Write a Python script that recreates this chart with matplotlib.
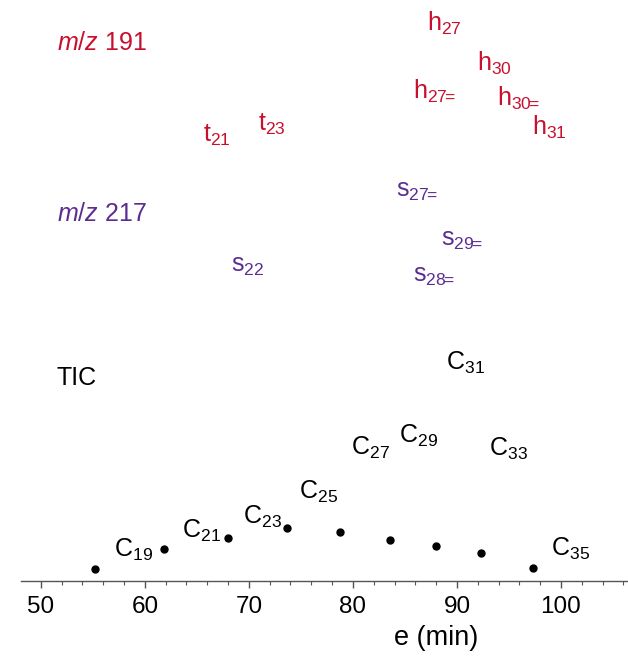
import matplotlib
matplotlib.use("Agg")
import matplotlib.pyplot as plt
from matplotlib.ticker import MultipleLocator

plt.rcParams["font.family"] = ["Liberation Sans", "DejaVu Sans"]
plt.rcParams["mathtext.fontset"] = "custom"
plt.rcParams["mathtext.rm"] = "Liberation Sans"
plt.rcParams["mathtext.it"] = "Liberation Sans:italic"
plt.rcParams["mathtext.default"] = "regular"

RED = "#c8102e"
PURPLE = "#5c2d91"

# TIC n-alkane maxima (retention time, relative intensity)
tic_time = [55.2, 61.8, 68.0, 73.65, 78.75, 83.56, 87.98, 92.3, 97.3]
tic_level = [12, 32, 43, 53, 49, 41, 35, 28, 13]

# peak labels: text, x (min), y (relative), trace
EQ = r"\!\!="
m191_labels = ["h$_{27}$", "h$_{30}$", "h$_{27" + EQ + "}$", "h$_{30" + EQ + "}$",
               "h$_{31}$", "t$_{21}$", "t$_{23}$"]
m191_x = [87.12, 91.92, 85.77, 93.85, 97.21, 65.58, 70.87]
m191_y = [550, 510, 482, 475, 446, 439, 450]

m217_labels = ["s$_{27" + EQ + "}$", "s$_{29" + EQ + "}$", "s$_{22}$", "s$_{28" + EQ + "}$"]
m217_x = [84.13, 88.46, 68.27, 85.77]
m217_y = [384, 335, 309, 299]

tic_labels = ["C$_{31}$", "C$_{29}$", "C$_{27}$", "C$_{33}$", "C$_{25}$",
              "C$_{23}$", "C$_{21}$", "C$_{19}$", "C$_{35}$"]
tic_label_x = [88.94, 84.42, 79.81, 93.08, 74.81, 69.42, 63.56, 57.02, 99.04]
tic_label_y = [211, 138, 126, 125, 82, 57, 43, 24, 25]

trace_names = ["$\\mathit{m/z}$ 191", "$\\mathit{m/z}$ 217", "TIC"]
trace_x = [51.54, 51.54, 51.54]
trace_y = [531, 360, 196]
trace_colors = [RED, PURPLE, "black"]

FS = 18

fig = plt.figure(figsize=(6.28, 6.58), dpi=100)
ax = fig.add_axes([21 / 628, 77 / 658, 607 / 628, 581 / 658])

ax.plot(tic_time, tic_level, "o", color="black", markersize=5, clip_on=False)

for name, x, y, c in zip(trace_names, trace_x, trace_y, trace_colors):
    ax.text(x, y, name, color=c, fontsize=FS, ha="left", va="baseline")
for lab, x, y in zip(m191_labels, m191_x, m191_y):
    ax.text(x, y, lab, color=RED, fontsize=FS, ha="left", va="baseline")
for lab, x, y in zip(m217_labels, m217_x, m217_y):
    ax.text(x, y, lab, color=PURPLE, fontsize=FS, ha="left", va="baseline")
for lab, x, y in zip(tic_labels, tic_label_x, tic_label_y):
    ax.text(x, y, lab, color="black", fontsize=FS, ha="left", va="baseline")

ax.set_xlim(48.1, 106.44)
ax.set_ylim(0, 581)
ax.set_yticks([])
for side in ["left", "right", "top"]:
    ax.spines[side].set_visible(False)
ax.spines["bottom"].set_color("#555555")
ax.spines["bottom"].set_linewidth(1.0)

ax.xaxis.set_major_locator(MultipleLocator(10))
ax.xaxis.set_minor_locator(MultipleLocator(2))
ax.tick_params(axis="x", which="major", length=5, width=1, color="#555555",
               labelsize=17.5, pad=6)
ax.tick_params(axis="x", which="minor", length=3, width=0.8, color="#555555")

ax.set_xlabel("e (min)", fontsize=19.5)
ax.xaxis.set_label_coords(415 / 607, -0.075)

fig.savefig("out.png", dpi=100)
